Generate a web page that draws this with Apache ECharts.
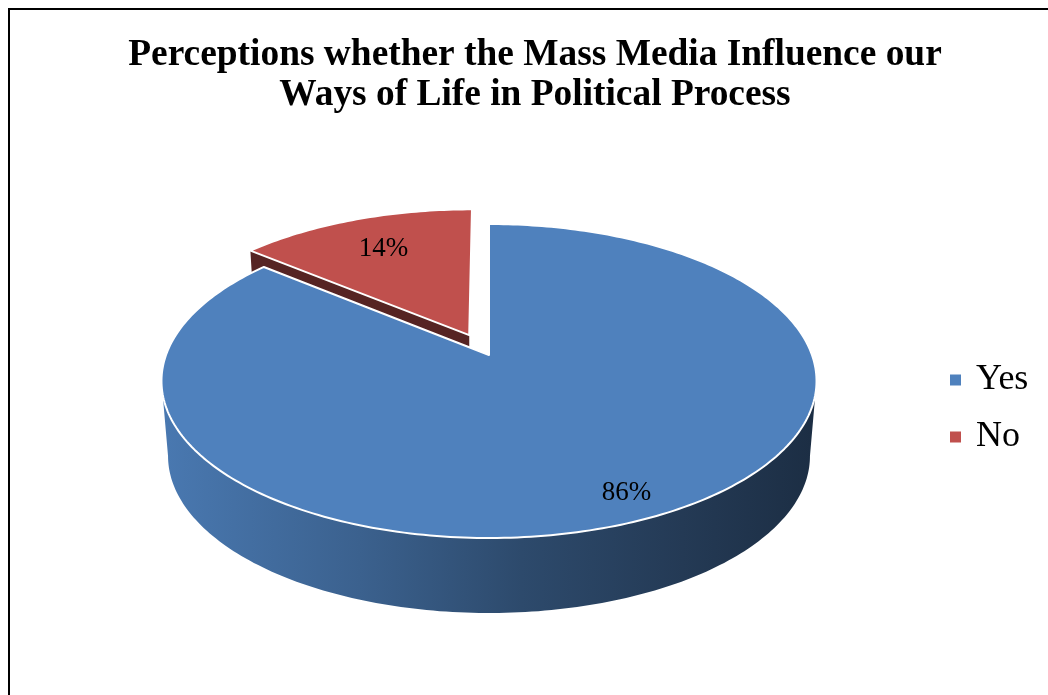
<!DOCTYPE html>
<html>
<head>
<meta charset="utf-8">
<style>
  html, body { margin: 0; padding: 0; background: #ffffff; }
  #chart { width: 1048px; height: 695px; }
</style>
<script src="https://cdn.jsdelivr.net/npm/echarts@6/dist/echarts.min.js"></script>
</head>
<body>
<div id="chart"></div>
<script>
// ---- data ----
const titleLines = ['Perceptions whether the Mass Media Influence our', 'Ways of Life in Political Process'];
const categories = ['Yes', 'No'];
const values = [86, 14];

// ---- style ----
const sliceColors = ['#4f81bd', '#c0504d'];
const explode = [0, 0.147];       // fraction of radius
const labelRadius = [0.87, 0.72]; // fraction of radius

// projection of the tilted disc (top face), perspective-ish
const CX = 489, CY = 355, RX = 323, RY = 152.7, K = 0.1656, H = 75, SHRINK = 0.98;
function topPt(u, v) { const d = 1 + K * v; return [CX + RX * u / d, CY - RY * v / d]; }
function botPt(u, v) { const p = topPt(u, v); return [CX + (p[0] - CX) * SHRINK, p[1] + H]; }

function shade(hex, f) {
  const n = parseInt(hex.slice(1), 16);
  const r = Math.round(((n >> 16) & 255) * f), g = Math.round(((n >> 8) & 255) * f), b = Math.round((n & 255) * f);
  return 'rgb(' + r + ',' + g + ',' + b + ')';
}
const DEG = Math.PI / 180;
const total = values.reduce((a, b) => a + b, 0);
const visA = Math.acos(-K) / DEG, visB = 360 - visA;

function makeRender(i) {
  return function (params, api) {
    const val = api.value(0);
    const before = values.slice(0, i).reduce((a, b) => a + b, 0);
    const a0 = before / total * 360;
    const a1 = a0 + val / total * 360;
    const mid = (a0 + a1) / 2;
    const ou = explode[i] * Math.sin(mid * DEG), ov = explode[i] * Math.cos(mid * DEG);
    const uv = (ang, r) => [ou + r * Math.sin(ang * DEG), ov + r * Math.cos(ang * DEG)];
    const base = sliceColors[i];
    const children = [];

    // radial walls
    const walls = [[a0, [-Math.cos(a0 * DEG), Math.sin(a0 * DEG)]], [a1, [Math.cos(a1 * DEG), -Math.sin(a1 * DEG)]]];
    walls.forEach(([ang, n]) => {
      if (n[1] < -0.02) {
        const c = uv(ang, 1);
        children.push({
          type: 'polygon',
          shape: { points: [topPt(ou, ov), topPt(c[0], c[1]), botPt(c[0], c[1]), botPt(ou, ov)] },
          style: { fill: shade(base, 0.45), stroke: null }
        });
      }
    });

    // outer wall (front)
    const w0 = Math.max(a0, visA), w1 = Math.min(a1, visB);
    if (w1 > w0) {
      const n = Math.max(2, Math.ceil(w1 - w0));
      const topArc = [], botArc = [];
      for (let k = 0; k <= n; k++) {
        const p = uv(w0 + (w1 - w0) * k / n, 1);
        topArc.push(topPt(p[0], p[1]));
        botArc.push(botPt(p[0], p[1]));
      }
      const pts = topArc.concat(botArc.reverse());
      children.push({
        type: 'polygon',
        shape: { points: pts },
        style: {
          fill: new echarts.graphic.LinearGradient(CX - RX, 0, CX + RX, 0, [
            { offset: 0, color: shade(base, 0.93) },
            { offset: 0.3, color: shade(base, 0.75) },
            { offset: 0.55, color: shade(base, 0.57) },
            { offset: 0.8, color: shade(base, 0.45) },
            { offset: 1, color: shade(base, 0.36) }
          ], true),
          stroke: null
        }
      });
    }

    // top face
    const n = Math.max(2, Math.ceil(a1 - a0));
    const face = [topPt(ou, ov)];
    for (let k = 0; k <= n; k++) {
      const p = uv(a0 + (a1 - a0) * k / n, 1);
      face.push(topPt(p[0], p[1]));
    }
    children.push({
      type: 'polygon',
      shape: { points: face },
      style: { fill: base, stroke: '#ffffff', lineWidth: 2, lineJoin: 'round' }
    });

    // label
    const lp = uv(mid, labelRadius[i]);
    const lq = topPt(lp[0], lp[1]);
    children.push({
      type: 'text',
      x: lq[0], y: lq[1],
      style: {
        text: Math.round(val / total * 100) + '%',
        fill: '#000000',
        font: '27px "Liberation Serif", "Times New Roman", serif',
        align: 'center', verticalAlign: 'middle'
      }
    });
    return { type: 'group', children: children };
  };
}

const chart = echarts.init(document.getElementById('chart'), null, { renderer: 'canvas' });
chart.setOption({
  backgroundColor: '#ffffff',
  animation: false,
  title: {
    text: titleLines.join('\n'),
    left: 535,
    textAlign: 'center',
    top: 35,
    padding: 0,
    textStyle: {
      fontFamily: '"Liberation Serif", "Times New Roman", serif',
      fontWeight: 'bold',
      fontSize: 37.4,
      lineHeight: 40,
      color: '#000000'
    }
  },
  legend: {
    data: categories,
    orient: 'vertical',
    left: 950,
    top: 362,
    padding: 0,
    itemWidth: 11,
    itemHeight: 11,
    itemGap: 21,
    icon: 'rect',
    selectedMode: false,
    textStyle: {
      fontFamily: '"Liberation Serif", "Times New Roman", serif',
      fontSize: 36,
      lineHeight: 36,
      color: '#000000',
      padding: [0, 0, 0, 10]
    }
  },
  graphic: [{
    type: 'rect',
    shape: { x: 9, y: 9, width: 1200, height: 900 },
    style: { fill: null, stroke: '#000000', lineWidth: 2 },
    silent: true
  }],
  series: categories.map((name, i) => ({
    type: 'custom',
    name: name,
    coordinateSystem: 'none',
    z: 10 - i,
    silent: true,
    itemStyle: { color: sliceColors[i] },
    data: [[values[i]]],
    renderItem: makeRender(i)
  }))
});
</script>
</body>
</html>
